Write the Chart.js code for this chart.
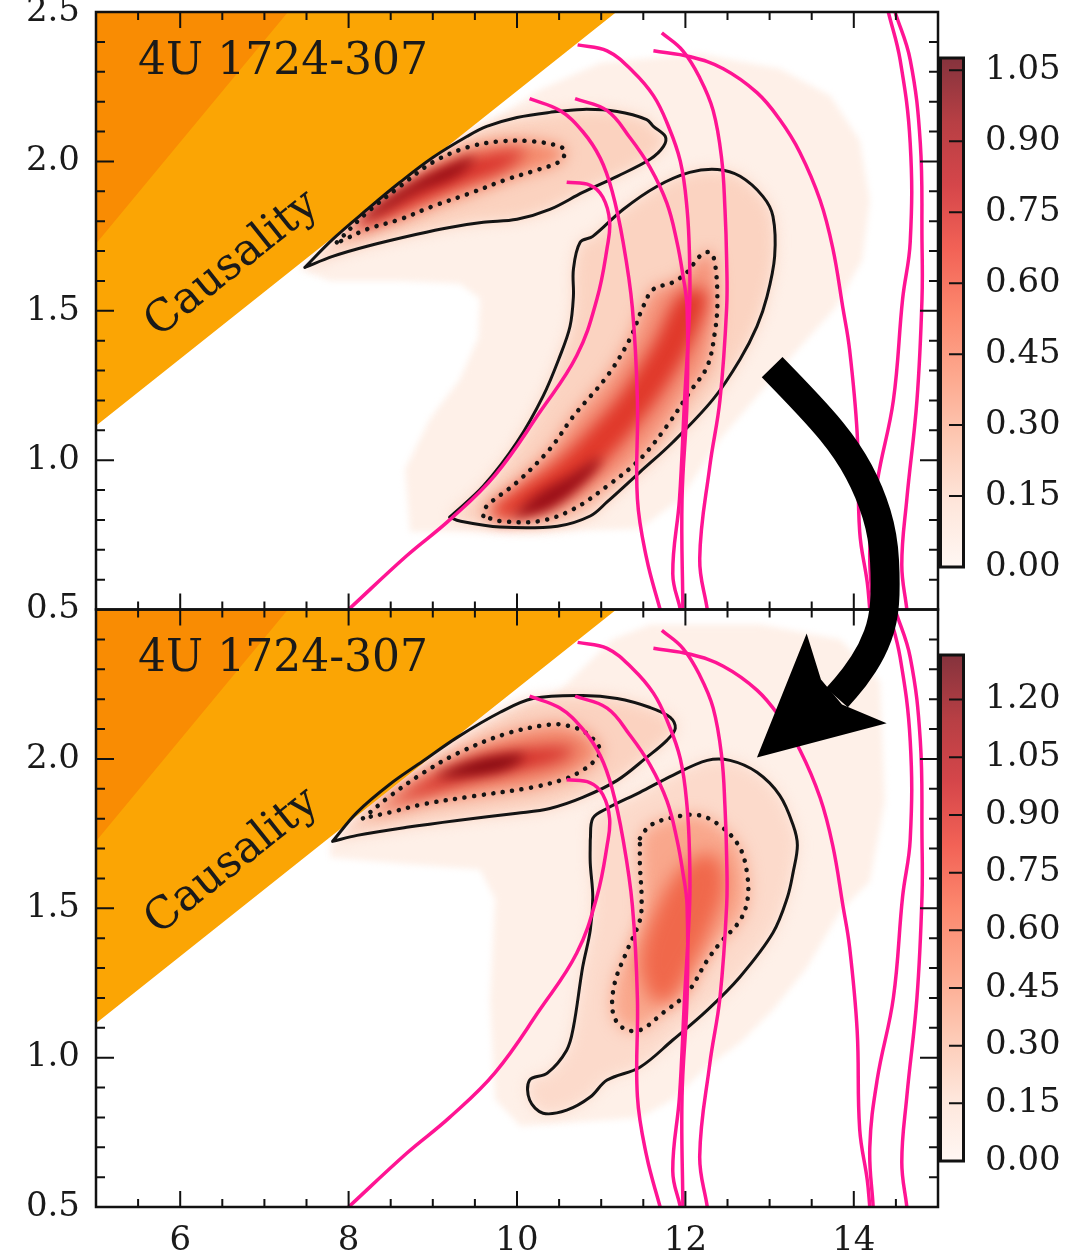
<!DOCTYPE html>
<html>
<head>
<meta charset="utf-8">
<script src="https://cdn.jsdelivr.net/npm/chart.js@4.4.1/dist/chart.umd.min.js"></script>
<style>
  html, body { margin: 0; padding: 0; background: #fff; }
  #wrap { position: relative; width: 1071px; height: 1260px; overflow: hidden; }
  #main { position: absolute; left: 0; top: 0; }
  #cbTop { position: absolute; left: 939px; top: 30px; }
  #cbBot { position: absolute; left: 939px; top: 630px; }
</style>
</head>
<body>
<div id="wrap">
  <canvas id="main" width="1071" height="1260"></canvas>
  <canvas id="cbTop" width="132" height="570"></canvas>
  <canvas id="cbBot" width="132" height="570"></canvas>
</div>
<script>
Chart.defaults.font.family = "'DejaVu Serif', serif";
Chart.defaults.color = '#1a1a1a';

// axes
const xTicks = [6, 8, 10, 12, 14];
const yTicksTop = [0.5, 1.0, 1.5, 2.0, 2.5];
const yTicksBot = [0.5, 1.0, 1.5, 2.0];
const cbTicksTop = [0, 0.15, 0.30, 0.45, 0.60, 0.75, 0.90, 1.05];
const cbTicksBot = [0, 0.15, 0.30, 0.45, 0.60, 0.75, 0.90, 1.05, 1.20];
const cbMaxTop = 1.076;
const cbMaxBot = 1.316;

// forbidden regions (R, M)
const causality = [[5, 1.115], [11.18, 2.5], [5, 2.5]];
const horizon = [[5, 1.724], [7.28, 2.5], [5, 2.5]];

// EoS mass-radius curves (same in both panels)
const eosA = [[8.0,0.5],[8.69,0.68],[9.20,0.80],[9.74,0.95],[10.27,1.16],[10.71,1.35],[10.95,1.54],[11.07,1.71],[11.10,1.80],[11.02,1.88],[10.87,1.92],[10.59,1.93]];
const eosB = [[10.15,2.21],[10.51,2.17],[10.78,2.10],[10.99,2.01],[11.13,1.90],[11.26,1.73],[11.37,1.51],[11.43,1.20],[11.43,0.87],[11.54,0.67],[11.70,0.50]];
const eosC = [[10.69,2.21],[11.07,2.17],[11.34,2.08],[11.58,1.98],[11.78,1.86],[11.90,1.73],[11.97,1.62],[12.02,1.51],[12.02,1.20],[11.96,0.87],[11.97,0.50]];
const eosD = [[10.72,2.39],[11.07,2.37],[11.38,2.30],[11.62,2.22],[11.78,2.13],[11.94,2.00],[12.02,1.84],[12.05,1.67],[12.05,1.51],[11.99,1.20],[11.93,0.87],[11.85,0.62],[11.94,0.50]];
const eosE = [[11.72,2.43],[11.97,2.37],[12.17,2.28],[12.33,2.17],[12.43,2.01],[12.47,1.84],[12.49,1.67],[12.49,1.51],[12.41,1.20],[12.29,0.98],[12.17,0.67],[12.26,0.50]];
const eosF = [[11.62,2.37],[12.06,2.35],[12.45,2.31],[12.85,2.23],[13.12,2.14],[13.36,2.03],[13.60,1.87],[13.75,1.71],[13.87,1.51],[13.95,1.37],[14.04,1.09],[14.07,0.76],[14.16,0.59],[14.19,0.50]];
const eosG = [[14.41,2.5],[14.55,2.34],[14.67,2.06],[14.67,1.73],[14.58,1.54],[14.47,1.20],[14.28,0.93],[14.19,0.70],[14.23,0.50]];
const eosH = [[14.49,2.5],[14.67,2.34],[14.79,2.06],[14.81,1.73],[14.81,1.54],[14.75,1.20],[14.63,0.87],[14.57,0.65],[14.63,0.50]];

// upper panel: posterior contours
const topHaze = [[7.42,1.64],[7.78,1.72],[8.61,1.91],[9.44,2.09],[10.27,2.24],[10.99,2.33],[12.17,2.36],[13.12,2.31],[13.72,2.22],[14.07,2.07],[14.19,1.87],[14.10,1.67],[13.78,1.51],[13.24,1.34],[12.41,1.07],[11.94,0.87],[11.46,0.77],[10.27,0.76],[8.73,0.76],[8.67,0.97],[8.97,1.14],[9.32,1.27],[9.54,1.41],[9.56,1.54],[9.32,1.59],[8.61,1.60],[7.78,1.60]];
const topSolidA = [[7.48,1.645],[7.81,1.739],[8.22,1.839],[8.61,1.930],[9.00,2.013],[9.41,2.084],[9.64,2.117],[10.00,2.147],[10.39,2.164],[10.78,2.174],[11.19,2.167],[11.54,2.140],[11.62,2.117],[11.76,2.084],[11.74,2.050],[11.58,2.007],[11.19,1.950],[10.78,1.896],[10.39,1.839],[10.00,1.806],[9.60,1.796],[9.20,1.779],[8.81,1.756],[8.22,1.716],[7.81,1.682]];
const topDotA = [[7.86,1.729],[8.22,1.829],[8.61,1.916],[9.00,1.997],[9.41,2.047],[9.80,2.067],[10.19,2.067],[10.51,2.050],[10.57,2.033],[10.51,2.000],[10.19,1.967],[9.88,1.940],[9.41,1.890],[9.00,1.850],[8.61,1.806],[8.22,1.773],[7.90,1.732]];
const topCoreA = [[8.00,1.775],[8.61,1.895],[9.09,1.972],[9.56,2.018],[10.10,2.038],[9.85,1.973],[9.32,1.918],[8.73,1.846],[8.20,1.782]];
const topPeakA = [[8.10,1.800],[8.60,1.900],[9.10,1.975],[9.50,2.015],[9.30,1.955],[8.80,1.895],[8.30,1.815]];
const topSolidB = [[9.20,0.809],[9.60,0.913],[10.00,1.060],[10.31,1.214],[10.51,1.348],[10.63,1.448],[10.67,1.548],[10.67,1.639],[10.75,1.729],[10.90,1.749],[11.26,1.839],[11.66,1.916],[12.05,1.963],[12.38,1.973],[12.65,1.950],[12.92,1.883],[13.04,1.816],[13.06,1.682],[12.97,1.548],[12.85,1.448],[12.65,1.338],[12.33,1.204],[11.85,1.060],[11.46,0.960],[11.07,0.860],[10.87,0.813],[10.48,0.779],[9.80,0.776],[9.32,0.796]];
const topDotB = [[9.60,0.813],[9.64,0.846],[10.00,0.926],[10.39,1.037],[10.67,1.147],[11.07,1.281],[11.34,1.405],[11.50,1.515],[11.62,1.572],[11.85,1.595],[12.02,1.629],[12.17,1.682],[12.29,1.696],[12.35,1.662],[12.38,1.528],[12.35,1.428],[12.26,1.314],[12.05,1.227],[11.78,1.114],[11.46,1.003],[11.07,0.913],[10.67,0.836],[10.27,0.796],[9.80,0.796]];
const topCoreB = [[9.80,0.800],[10.33,0.850],[10.90,0.960],[11.35,1.090],[11.78,1.250],[12.12,1.420],[12.25,1.560],[11.95,1.560],[11.62,1.390],[11.25,1.230],[10.85,1.100],[10.45,0.990],[10.00,0.900],[9.70,0.830]];
const topPeakB = [[9.92,0.803],[10.39,0.836],[10.85,0.940],[11.00,1.010],[10.63,0.950],[10.21,0.880]];

// lower panel: posterior contours
const botHaze = [[7.78,1.71],[8.61,1.90],[9.56,2.06],[10.51,2.23],[11.13,2.40],[11.58,2.45],[12.89,2.45],[13.84,2.40],[14.31,2.26],[14.37,1.86],[14.19,1.59],[13.84,1.49],[13.44,1.30],[13.04,1.16],[12.65,1.05],[12.26,0.97],[11.85,0.86],[11.46,0.80],[10.04,0.77],[9.74,0.86],[9.68,1.19],[9.74,1.53],[9.56,1.63],[8.61,1.65],[7.78,1.67]];
const botSolidA = [[7.81,1.724],[8.10,1.821],[8.49,1.915],[8.88,1.992],[9.29,2.072],[9.80,2.156],[10.19,2.202],[10.78,2.212],[11.19,2.202],[11.58,2.172],[11.82,2.139],[11.88,2.102],[11.78,2.062],[11.54,2.005],[11.19,1.928],[10.78,1.871],[10.39,1.834],[10.00,1.818],[9.29,1.794],[8.69,1.771],[8.10,1.744]];
const botDotA = [[8.17,1.801],[8.49,1.875],[8.88,1.952],[9.29,2.018],[9.88,2.085],[10.39,2.115],[10.59,2.112],[10.83,2.085],[10.99,2.028],[10.90,1.988],[10.78,1.962],[10.59,1.935],[10.19,1.905],[9.48,1.875],[8.88,1.848],[8.49,1.821]];
const botCoreA = [[8.43,1.844],[8.97,1.935],[9.56,2.005],[10.15,2.035],[10.69,2.035],[10.51,1.995],[10.04,1.962],[9.44,1.928],[8.85,1.878]];
const botPeakA = [[9.00,1.940],[9.56,1.998],[10.10,2.012],[9.85,1.965],[9.30,1.940]];
const botSolidB = [[10.87,1.727],[10.90,1.801],[11.07,1.834],[11.46,1.888],[11.85,1.945],[12.26,1.995],[12.53,1.995],[12.85,1.955],[13.12,1.878],[13.28,1.778],[13.33,1.711],[13.28,1.621],[13.21,1.535],[13.04,1.418],[12.65,1.271],[12.26,1.159],[11.85,1.059],[11.46,0.968],[11.07,0.925],[10.87,0.868],[10.59,0.824],[10.31,0.814],[10.15,0.858],[10.15,0.925],[10.36,0.948],[10.59,1.025],[10.67,1.102],[10.78,1.303],[10.87,1.426],[10.90,1.537],[10.87,1.651]];
const botDotB = [[11.46,1.734],[11.58,1.777],[11.85,1.804],[12.17,1.811],[12.45,1.768],[12.65,1.701],[12.73,1.621],[12.74,1.533],[12.65,1.460],[12.41,1.383],[12.26,1.326],[12.02,1.216],[11.73,1.149],[11.46,1.092],[11.26,1.099],[11.14,1.149],[11.16,1.249],[11.31,1.360],[11.46,1.460],[11.48,1.533],[11.46,1.644]];
const botCoreB = [[11.58,1.192],[11.46,1.326],[11.70,1.527],[12.05,1.661],[12.35,1.677],[12.47,1.577],[12.29,1.426],[12.05,1.292],[11.82,1.192]];

const toXY = arr => arr.map(p => ({ x: p[0], y: p[1] }));
const loop = arr => toXY(arr.concat([arr[0]]));

const datasets = [];

function shape(data, axis, color, blur, order, tension) {
  datasets.push({
    data: loop(data), yAxisID: axis, shapeFill: true, blur: blur,
    backgroundColor: color, borderColor: 'transparent', borderWidth: 0,
    fill: false, tension: tension, order: order
  });
}
function contour(data, axis, dotted) {
  datasets.push({
    data: loop(data), yAxisID: axis, fill: false, tension: 0.35,
    borderColor: '#141414', borderWidth: dotted ? 4.5 : 3,
    borderDash: dotted ? [0.1, 9.5] : [], borderCapStyle: 'round',
    borderJoinStyle: 'round', order: dotted ? 19 : 20
  });
}

// heat layers, drawn back to front
shape(topHaze, 'yT', '#FEF0E8', 3, 90, 0);
shape(botHaze, 'yB', '#FEF0E8', 3, 90, 0);
shape(topSolidA, 'yT', '#FBD2BF', 7, 80, 0.35);
shape(topSolidB, 'yT', '#FBD3C1', 7, 80, 0.35);
shape(botSolidA, 'yB', '#FBD2C0', 7, 80, 0.35);
shape(botSolidB, 'yB', '#FCDACB', 7, 80, 0.35);
shape(topDotA, 'yT', '#F48A6C', 8, 70, 0.35);
shape(topDotB, 'yT', '#F5937A', 8, 70, 0.35);
shape(botDotA, 'yB', '#F38A6E', 8, 70, 0.35);
shape(botDotB, 'yB', '#F9A78C', 8, 70, 0.35);
shape(topCoreA, 'yT', '#D8302A', 8, 60, 0.35);
shape(topCoreB, 'yT', '#E0382A', 8, 60, 0.35);
shape(botCoreA, 'yB', '#D42D28', 8, 60, 0.35);
shape(botCoreB, 'yB', '#F0684B', 9, 60, 0.35);
shape(topPeakA, 'yT', '#950B13', 6, 50, 0.35);
shape(topPeakB, 'yT', '#9A0E17', 6, 50, 0.35);
shape(botPeakA, 'yB', '#860A12', 6, 50, 0.35);

// forbidden regions
['yT', 'yB'].forEach(ax => {
  shape(causality, ax, '#FBA504', 0, 40, 0);
  shape(horizon, ax, '#F98C03', 0, 39, 0);
});

// credible contours
[[topSolidA, topDotA, 'yT'], [topSolidB, topDotB, 'yT'],
 [botSolidA, botDotA, 'yB'], [botSolidB, botDotB, 'yB']].forEach(c => {
  contour(c[0], c[2], false);
  contour(c[1], c[2], true);
});

// EoS curves
[eosA, eosB, eosC, eosD, eosE, eosF, eosG, eosH].forEach(curve => {
  ['yT', 'yB'].forEach(ax => {
    datasets.push({
      data: toXY(curve), yAxisID: ax, fill: false, tension: 0.4,
      borderColor: '#FF1493', borderWidth: 3.5, order: 10
    });
  });
});

// fills the closed line of a dataset, optionally blurred, inside its panel
const shapeFill = {
  id: 'shapeFill',
  afterDatasetDraw(chart, args) {
    const ds = chart.data.datasets[args.index];
    if (!ds.shapeFill) return;
    const meta = args.meta, line = meta.dataset;
    const xs = meta.xScale, ys = meta.yScale, ctx = chart.ctx;
    if (line.updateControlPoints) line.updateControlPoints(chart.chartArea, 'x');
    ctx.save();
    ctx.beginPath();
    ctx.rect(xs.left, ys.top, xs.right - xs.left, ys.bottom - ys.top);
    ctx.clip();
    if (ds.blur) ctx.filter = 'blur(' + ds.blur + 'px)';
    ctx.beginPath();
    line.path(ctx);
    ctx.closePath();
    ctx.fillStyle = ds.backgroundColor;
    ctx.fill();
    ctx.restore();
  }
};

// panel labels
const labels = {
  id: 'labels',
  afterDatasetsDraw(chart) {
    const ctx = chart.ctx, xs = chart.scales.x;
    ['yT', 'yB'].forEach(id => {
      const ys = chart.scales[id];
      ctx.save();
      ctx.fillStyle = '#1a1a1a';
      ctx.font = "44px 'DejaVu Serif'";
      ctx.textBaseline = 'alphabetic';
      ctx.fillText('4U 1724-307', xs.getPixelForValue(5.5), ys.getPixelForValue(2.294));
      const x1 = xs.getPixelForValue(causality[0][0]), y1 = ys.getPixelForValue(causality[0][1]);
      const x2 = xs.getPixelForValue(causality[1][0]), y2 = ys.getPixelForValue(causality[1][1]);
      ctx.translate(xs.getPixelForValue(6.62), ys.getPixelForValue(1.655));
      ctx.rotate(Math.atan2(y2 - y1, x2 - x1));
      ctx.font = "44px 'DejaVu Serif'";
      ctx.textAlign = 'center';
      ctx.textBaseline = 'middle';
      ctx.fillText('Causality', 0, 0);
      ctx.restore();
    });
  }
};

// spines and inward ticks
const frame = {
  id: 'frame',
  afterDatasetsDraw(chart) {
    const ctx = chart.ctx, xs = chart.scales.x;
    ctx.save();
    ctx.strokeStyle = '#111';
    ['yT', 'yB'].forEach(id => {
      const ys = chart.scales[id];
      ctx.lineWidth = 2;
      ctx.beginPath();
      for (let v = xs.min + 0.5; v < xs.max - 0.01; v += 0.5) {
        const px = xs.getPixelForValue(v);
        const len = Math.abs(v % 2) < 0.01 ? 16 : 8;
        ctx.moveTo(px, ys.bottom); ctx.lineTo(px, ys.bottom - len);
        ctx.moveTo(px, ys.top); ctx.lineTo(px, ys.top + len);
      }
      for (let v = ys.min + 0.1; v < ys.max - 0.01; v += 0.1) {
        const py = ys.getPixelForValue(v);
        const major = Math.abs(v * 2 - Math.round(v * 2)) < 0.01;
        const len = major ? 18 : 9;
        ctx.moveTo(xs.left, py); ctx.lineTo(xs.left + len, py);
        ctx.moveTo(xs.right, py); ctx.lineTo(xs.right - len, py);
      }
      ctx.stroke();
      ctx.lineWidth = 2.5;
      ctx.strokeRect(xs.left, ys.top, xs.right - xs.left, ys.bottom - ys.top);
    });
    ctx.restore();
  }
};

// the big curved arrow from the upper to the lower panel
const arrowShaft = [['yT',13.03,1.311],['yT',13.54,1.164],['yT',13.93,1.030],['yT',14.19,0.893],['yT',14.35,0.746],['yT',14.38,0.579],['yB',14.35,2.463],['yB',14.22,2.363],['yB',14.01,2.272],['yB',13.80,2.205]];
const arrowHead = [['yB',12.85,2.005],['yB',14.39,2.119],['yB',13.86,2.182],['yB',13.61,2.266],['yB',13.44,2.420]];
const arrow = {
  id: 'arrow',
  afterDraw(chart) {
    const ctx = chart.ctx, xs = chart.scales.x;
    const px = p => [xs.getPixelForValue(p[1]), chart.scales[p[0]].getPixelForValue(p[2])];
    const s = arrowShaft.map(px);
    ctx.save();
    ctx.strokeStyle = '#000';
    ctx.fillStyle = '#000';
    ctx.lineWidth = 29;
    ctx.lineCap = 'butt';
    ctx.lineJoin = 'round';
    ctx.beginPath();
    ctx.moveTo(s[0][0], s[0][1]);
    for (let i = 1; i < s.length - 1; i++) {
      const mx = (s[i][0] + s[i + 1][0]) / 2, my = (s[i][1] + s[i + 1][1]) / 2;
      ctx.quadraticCurveTo(s[i][0], s[i][1], mx, my);
    }
    ctx.lineTo(s[s.length - 1][0], s[s.length - 1][1]);
    ctx.stroke();
    const h = arrowHead.map(px);
    ctx.beginPath();
    h.forEach((p, i) => i ? ctx.lineTo(p[0], p[1]) : ctx.moveTo(p[0], p[1]));
    ctx.closePath();
    ctx.fill();
    ctx.restore();
  }
};

const tickFont = { family: "'DejaVu Serif'", size: 34 };
function yAxis(ticks) {
  return {
    type: 'linear', position: 'left', stack: 'panels', stackWeight: 1,
    min: 0.5, max: 2.5,
    grid: { display: false, drawTicks: false }, border: { display: false },
    ticks: { font: tickFont, color: '#1a1a1a', padding: 16, callback: v => v.toFixed(1) },
    afterBuildTicks: a => { a.ticks = ticks.map(v => ({ value: v })); },
    afterFit: a => { a.width = 96; a.paddingTop = 0; a.paddingBottom = 0; }
  };
}

new Chart(document.getElementById('main'), {
  type: 'line',
  data: { datasets: datasets },
  options: {
    responsive: false, animation: false, events: [],
    layout: { padding: { left: 0, right: 133, top: 12, bottom: 0 } },
    elements: { point: { radius: 0 } },
    plugins: { legend: { display: false }, tooltip: { enabled: false } },
    scales: {
      x: {
        type: 'linear', min: 5, max: 15, position: 'bottom',
        grid: { display: false, drawTicks: false }, border: { display: false },
        ticks: { font: tickFont, color: '#1a1a1a', padding: 14, maxRotation: 0 },
        afterBuildTicks: a => { a.ticks = xTicks.map(v => ({ value: v })); },
        afterFit: a => { a.height = 53; a.paddingLeft = 0; a.paddingRight = 0; }
      },
      yB: yAxis(yTicksBot),
      yT: yAxis(yTicksTop)
    }
  },
  plugins: [shapeFill, labels, frame, arrow]
});

// colour bars: Reds map seen through a translucent fill
const reds = ['#FFF7F3', '#FEE6DB', '#FDC9B4', '#FDA88E', '#FC886E', '#F26256', '#D5464A', '#B73F44', '#85333D'];
function redsGradient(chart) {
  const area = chart.chartArea;
  if (!area) return reds[4];
  const g = chart.ctx.createLinearGradient(0, area.bottom, 0, area.top);
  reds.forEach((c, i) => g.addColorStop(i / (reds.length - 1), c));
  return g;
}
const cbFrame = {
  id: 'cbFrame',
  afterDraw(chart) {
    const ctx = chart.ctx, a = chart.chartArea, ys = chart.scales.y;
    ctx.save();
    ctx.strokeStyle = '#111';
    ctx.lineWidth = 2;
    ctx.beginPath();
    ys.ticks.forEach(t => {
      const py = ys.getPixelForValue(t.value);
      ctx.moveTo(a.right, py); ctx.lineTo(a.right - 16, py);
    });
    ctx.stroke();
    ctx.lineWidth = 3;
    ctx.strokeRect(a.left + 1.5, a.top, a.right - a.left - 3, a.bottom - a.top);
    ctx.restore();
  }
};
function colorbar(id, vmax, ticks, padTop, padBottom) {
  return new Chart(document.getElementById(id), {
    type: 'bar',
    data: {
      labels: [''],
      datasets: [{
        data: [[0, vmax]], borderWidth: 0, barPercentage: 1, categoryPercentage: 1,
        backgroundColor: ctx => redsGradient(ctx.chart)
      }]
    },
    options: {
      responsive: false, animation: false, events: [],
      layout: { padding: { left: 0, right: 0, top: padTop, bottom: padBottom } },
      plugins: { legend: { display: false }, tooltip: { enabled: false } },
      scales: {
        x: { display: false },
        y: {
          position: 'right', min: 0, max: vmax,
          grid: { display: false, drawTicks: false }, border: { display: false },
          ticks: { font: tickFont, color: '#1a1a1a', padding: 20, callback: v => v.toFixed(2) },
          afterBuildTicks: a => { a.ticks = ticks.map(v => ({ value: v })); },
          afterFit: a => { a.width = 106; a.paddingTop = 0; a.paddingBottom = 0; }
        }
      }
    },
    plugins: [cbFrame]
  });
}
colorbar('cbTop', cbMaxTop, cbTicksTop, 28, 33);
colorbar('cbBot', cbMaxBot, cbTicksBot, 25, 39);
</script>
</body>
</html>
